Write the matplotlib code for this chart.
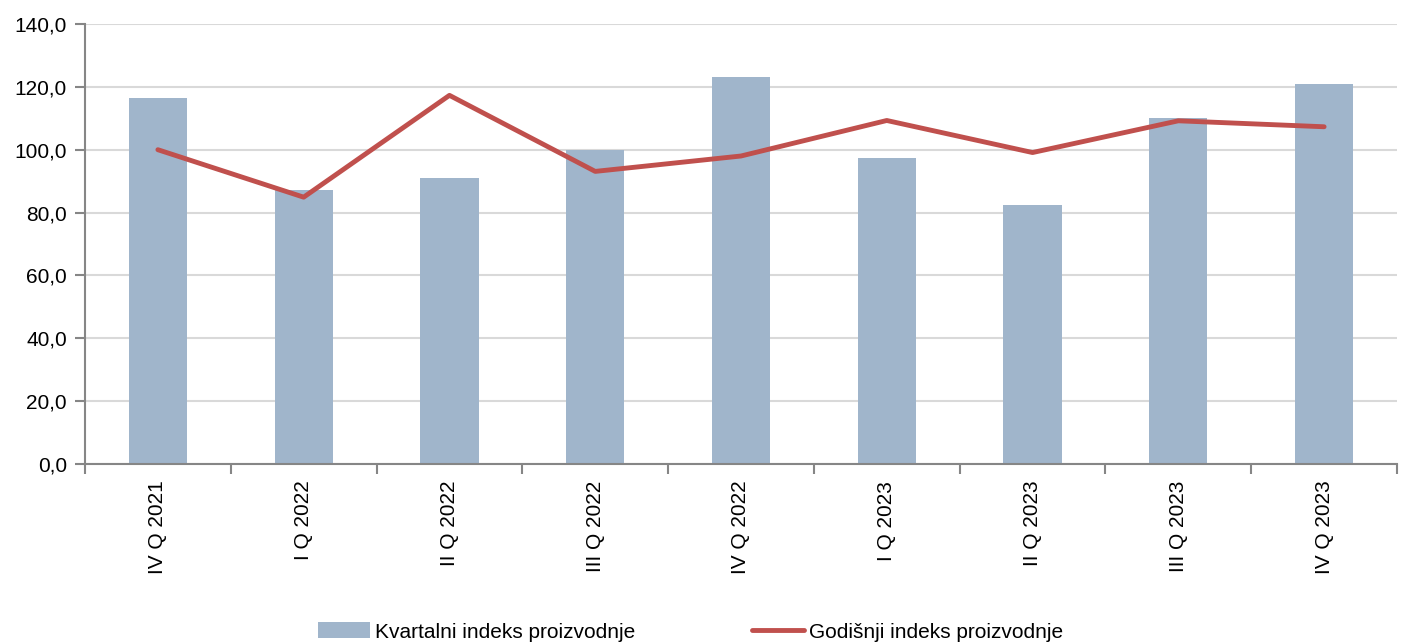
import matplotlib.pyplot as plt
import numpy as np

plt.rcParams['font.family'] = ['Liberation Sans', 'DejaVu Sans']

quarters = ['IV Q 2021', 'I Q 2022', 'II Q 2022', 'III Q 2022', 'IV Q 2022',
            'I Q 2023', 'II Q 2023', 'III Q 2023', 'IV Q 2023']
kvartalni = [116.6, 87.2, 91.1, 99.8, 123.0, 97.3, 82.5, 110.1, 120.9]
godisnji = [100.0, 84.9, 117.3, 93.1, 98.0, 109.3, 99.1, 109.2, 107.3]

fig = plt.figure(figsize=(14.02, 6.44), dpi=100)
ax = fig.add_axes([85 / 1402, 1 - 464 / 644, 1312 / 1402, 440 / 644])

x = np.arange(len(quarters))
bars = ax.bar(x, kvartalni, width=0.4, color='#A0B5CB',
              label='Kvartalni indeks proizvodnje', zorder=2)
line, = ax.plot(x, godisnji, color='#C0504D', linewidth=3.5, solid_capstyle='round',
                label='Godišnji indeks proizvodnje', zorder=3)

ax.set_xlim(-0.5, len(quarters) - 0.5)
ax.set_ylim(0, 140)
ax.set_yticks(np.arange(0, 141, 20))
ax.set_yticklabels([f'{v:.1f}'.replace('.', ',') for v in np.arange(0, 141, 20)])
ax.yaxis.grid(True, color='#D9D9D9', linewidth=1.5, zorder=0)
ax.set_axisbelow(True)

ax.set_xticks(x)
ax.set_xticklabels(quarters, rotation=90, ha='center', va='top')
ax.set_xticks(np.arange(-0.5, len(quarters)), minor=True)
ax.tick_params(axis='x', which='major', length=0, pad=12, labelsize=15)
ax.tick_params(axis='x', which='minor', length=7, color='#868686', width=1.5)
ax.tick_params(axis='y', length=7, color='#868686', width=1.5, labelsize=15, pad=6)

for s in ['top', 'right']:
    ax.spines[s].set_visible(False)
for s in ['left', 'bottom']:
    ax.spines[s].set_color('#868686')
    ax.spines[s].set_linewidth(1.5)

fig.legend(handles=[bars, line], loc='center', bbox_to_anchor=(0.4925, 1 - 632 / 644),
           ncol=2, frameon=False, fontsize=15, handlelength=2.5, handleheight=0.8,
           handletextpad=0.25, columnspacing=5.6)

fig.savefig('out.png', dpi=100)
